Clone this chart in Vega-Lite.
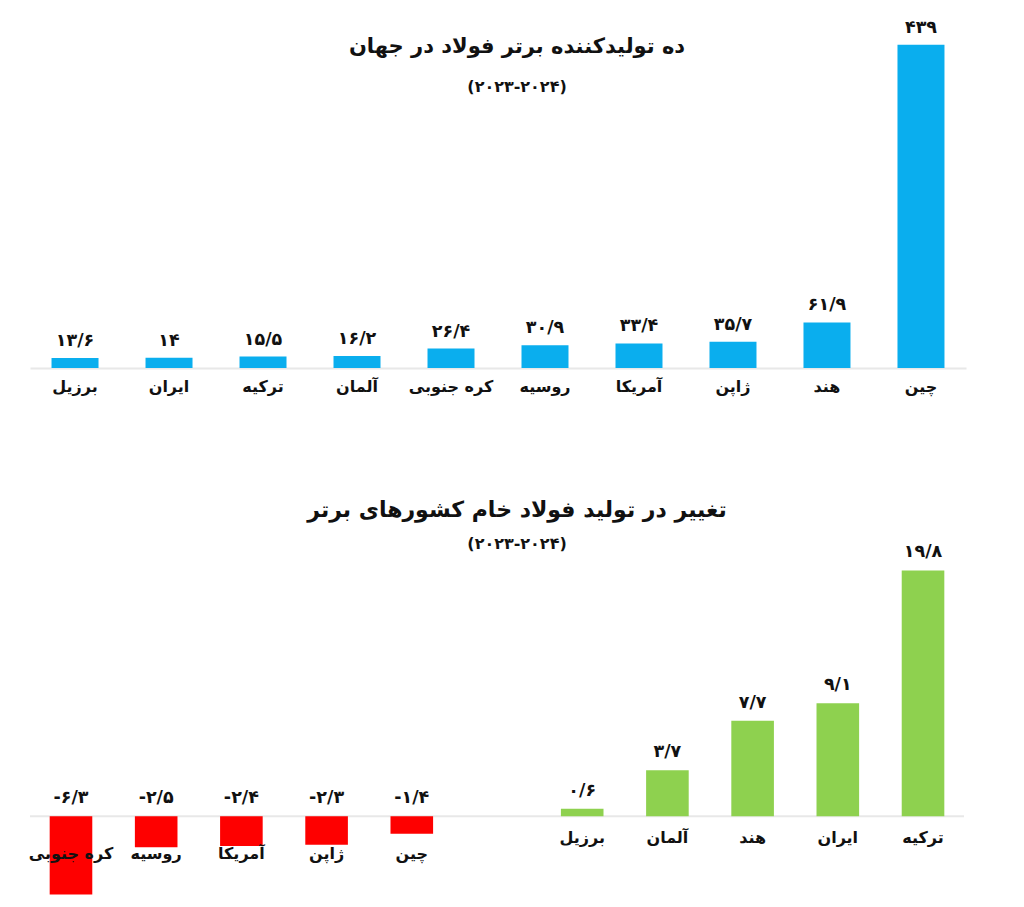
{
  "$schema": "https://vega.github.io/schema/vega-lite/v6.json",
  "padding": {"left": 28, "top": 18, "right": 5, "bottom": 0},
  "background": "white",
  "config": {
    "view": {"stroke": null},
    "font": "DejaVu Sans",
    "text": {"font": "DejaVu Sans", "fontWeight": "bold", "fontSize": 17.5, "color": "#111111", "align": "center", "baseline": "middle"},
    "title": {"font": "DejaVu Sans", "subtitleFont": "DejaVu Sans", "fontWeight": "bold", "subtitleFontWeight": "bold", "color": "#111111", "subtitleColor": "#111111", "anchor": "middle"}
  },
  "datasets": {
    "production": [
      {"country": "برزیل", "value": 13.6, "label": "۱۳/۶"},
      {"country": "ایران", "value": 14, "label": "۱۴"},
      {"country": "ترکیه", "value": 15.5, "label": "۱۵/۵"},
      {"country": "آلمان", "value": 16.2, "label": "۱۶/۲"},
      {"country": "کره جنوبی", "value": 26.4, "label": "۲۶/۴"},
      {"country": "روسیه", "value": 30.9, "label": "۳۰/۹"},
      {"country": "آمریکا", "value": 33.4, "label": "۳۳/۴"},
      {"country": "ژاپن", "value": 35.7, "label": "۳۵/۷"},
      {"country": "هند", "value": 61.9, "label": "۶۱/۹"},
      {"country": "چین", "value": 439, "label": "۴۳۹"}
    ],
    "change": [
      {"country": "کره جنوبی", "value": -6.3, "label": "-۶/۳"},
      {"country": "روسیه", "value": -2.5, "label": "-۲/۵"},
      {"country": "آمریکا", "value": -2.4, "label": "-۲/۴"},
      {"country": "ژاپن", "value": -2.3, "label": "-۲/۳"},
      {"country": "چین", "value": -1.4, "label": "-۱/۴"},
      {"country": "برزیل", "value": 0.6, "label": "۰/۶"},
      {"country": "آلمان", "value": 3.7, "label": "۳/۷"},
      {"country": "هند", "value": 7.7, "label": "۷/۷"},
      {"country": "ایران", "value": 9.1, "label": "۹/۱"},
      {"country": "ترکیه", "value": 19.8, "label": "۱۹/۸"}
    ],
    "zero": [{"value": 0}]
  },
  "spacing": 105,
  "vconcat": [
    {
      "width": 936,
      "height": 338,
      "data": {"name": "production"},
      "title": {
        "text": "ده تولیدکننده برتر فولاد در جهان",
        "subtitle": "(۲۰۲۳-۲۰۲۴)",
        "fontSize": 21,
        "subtitleFontSize": 16,
        "subtitlePadding": 22,
        "offset": -76,
        "dx": 19
      },
      "encoding": {
        "x": {
          "field": "country", "type": "nominal", "sort": null,
          "scale": {"paddingInner": 0.5, "paddingOuter": 0.229},
          "axis": {"title": null, "labelAngle": 0, "ticks": false, "domainColor": "#e8e8e8", "domainWidth": 2, "labelFont": "DejaVu Sans", "labelFontWeight": "bold", "labelFontSize": 16, "labelColor": "#111111", "labelPadding": 10}
        },
        "y": {"field": "value", "type": "quantitative", "scale": {"domain": [0, 459], "nice": false}, "axis": null}
      },
      "layer": [
        {"mark": {"type": "bar", "color": "#0aaeee"}},
        {"mark": {"type": "text", "dy": -17}, "encoding": {"text": {"field": "label"}}}
      ]
    },
    {
      "width": 934,
      "height": 329,
      "data": {"name": "change"},
      "title": {
        "text": "تغییر در تولید فولاد خام کشورهای برتر",
        "subtitle": "(۲۰۲۳-۲۰۲۴)",
        "fontSize": 22,
        "subtitleFontSize": 16,
        "subtitlePadding": 14,
        "offset": -10,
        "dx": 20
      },
      "layer": [
        {
          "data": {"name": "zero"},
          "mark": {"type": "rule", "color": "#e8e8e8", "strokeWidth": 2},
          "encoding": {"y": {"field": "value", "type": "quantitative", "scale": {"domain": [-6.5, 20], "nice": false}, "axis": null}}
        },
        {
          "mark": {"type": "bar"},
          "encoding": {
            "x": {"field": "country", "type": "nominal", "scale": {"domain": ["کره جنوبی", "روسیه", "آمریکا", "ژاپن", "چین", " ", "برزیل", "آلمان", "هند", "ایران", "ترکیه"], "paddingInner": 0.5, "paddingOuter": 0.231}, "axis": null},
            "y": {"field": "value", "type": "quantitative", "scale": {"domain": [-6.5, 20], "nice": false}, "axis": null},
            "color": {"condition": {"test": "datum.value < 0", "value": "#fe0000"}, "value": "#8ed14f"}
          }
        },
        {
          "transform": [{"filter": "datum.value > 0"}],
          "mark": {"type": "text", "dy": -18},
          "encoding": {
            "x": {"field": "country", "type": "nominal"},
            "y": {"field": "value", "type": "quantitative"},
            "text": {"field": "label"}
          }
        },
        {
          "transform": [{"filter": "datum.value < 0"}],
          "mark": {"type": "text", "dy": -18},
          "encoding": {
            "x": {"field": "country", "type": "nominal"},
            "y": {"datum": 0, "type": "quantitative"},
            "text": {"field": "label"}
          }
        },
        {
          "transform": [{"filter": "datum.value > 0"}],
          "mark": {"type": "text", "dy": 22, "fontSize": 16},
          "encoding": {
            "x": {"field": "country", "type": "nominal"},
            "y": {"datum": 0, "type": "quantitative"},
            "text": {"field": "country"}
          }
        },
        {
          "transform": [{"filter": "datum.value < 0"}],
          "mark": {"type": "text", "dy": 38, "fontSize": 16},
          "encoding": {
            "x": {"field": "country", "type": "nominal"},
            "y": {"datum": 0, "type": "quantitative"},
            "text": {"field": "country"}
          }
        }
      ]
    }
  ]
}
